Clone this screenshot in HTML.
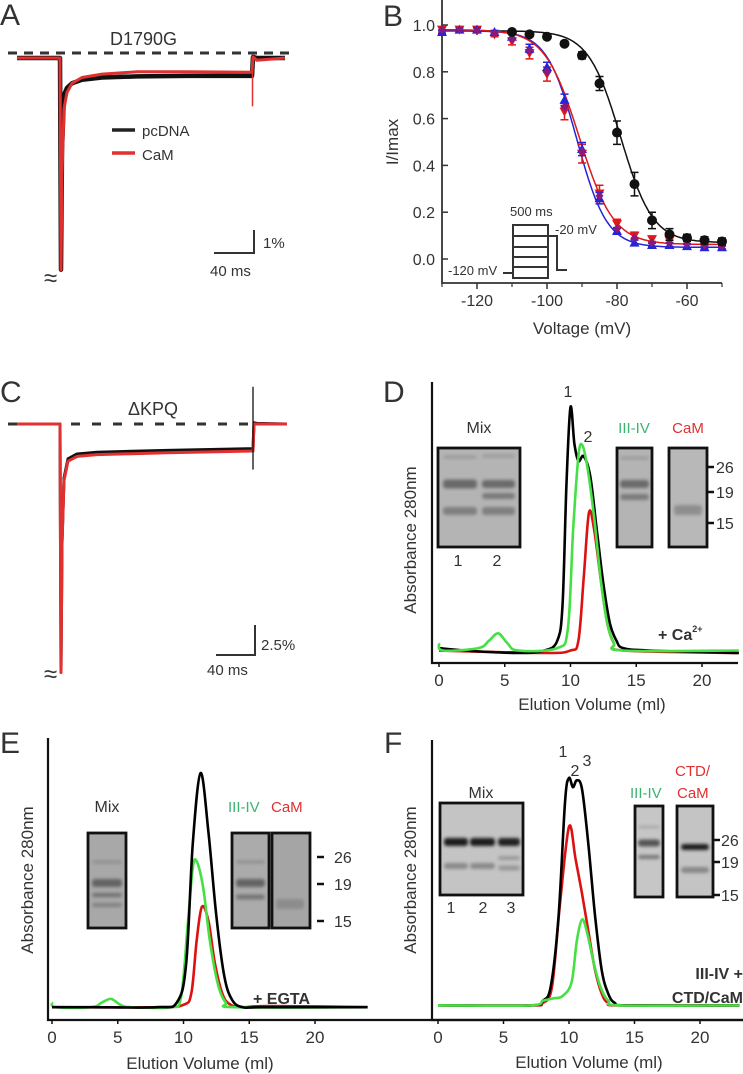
<!DOCTYPE html>
<html><head><meta charset="utf-8"><style>
html,body{margin:0;padding:0;background:#fff;}
svg{display:block;font-family:"Liberation Sans",Arial,sans-serif;}
text{fill:#333;}
</style></head><body>
<svg id="fig" width="743" height="1074" viewBox="0 0 743 1074" xmlns="http://www.w3.org/2000/svg">
<defs><filter id="blur" x="-20%" y="-100%" width="140%" height="300%"><feGaussianBlur stdDeviation="1.6"/></filter></defs>
<!-- Panel labels -->
<text x="0" y="25" font-size="30">A</text>
<text x="383" y="26" font-size="30">B</text>
<text x="0" y="402" font-size="30">C</text>
<text x="383" y="402" font-size="30">D</text>
<text x="0" y="753" font-size="30">E</text>
<text x="384" y="753" font-size="30">F</text>

<g id="pA">
<text x="110" y="45" font-size="18">D1790G</text>
<line x1="112" y1="130" x2="135" y2="130" stroke="#222" stroke-width="3.5"/>
<text x="142" y="136" font-size="15">pcDNA</text>
<line x1="112" y1="153" x2="135" y2="153" stroke="#e03030" stroke-width="3.5"/>
<text x="142" y="160" font-size="15">CaM</text>
<path d="M214 253 H254 V230" fill="none" stroke="#333" stroke-width="2"/>
<text x="263" y="248" font-size="15">1%</text>
<text x="210" y="276" font-size="15">40 ms</text>
<text x="44" y="286" font-size="24">≈</text>
</g>
<g id="pC">
<text x="128" y="415" font-size="18">ΔKPQ</text>
<path d="M216 655 H255 V625" fill="none" stroke="#333" stroke-width="2"/>
<text x="261" y="650" font-size="15">2.5%</text>
<text x="207" y="675" font-size="15">40 ms</text>
<text x="44" y="682" font-size="24">≈</text>
</g>

<g id="pB">
<text transform="translate(398,142) rotate(-90)" text-anchor="middle" font-size="17">I/Imax</text>
<text x="582" y="334" text-anchor="middle" font-size="17">Voltage (mV)</text>
<g stroke="#333" stroke-width="2" fill="none">
<rect x="513" y="225" width="35" height="53"/>
<path d="M513 236H548M513 247H548M513 257H548M513 267H548"/>
<path d="M503 273H513M548 236H557V270H567"/>
</g>
<text x="510" y="216" font-size="13">500 ms</text>
<text x="555" y="234" font-size="13">-20 mV</text>
<text x="448" y="275" font-size="13">-120 mV</text>
</g>

<!-- D -->
<g>
<text transform="translate(416,540) rotate(-90)" text-anchor="middle" font-size="17">Absorbance 280nm</text>
<text x="592" y="710" text-anchor="middle" font-size="17">Elution Volume (ml)</text>
<text x="479" y="433" text-anchor="middle" font-size="16">Mix</text>
<text x="458" y="566" text-anchor="middle" font-size="16">1</text>
<text x="497" y="566" text-anchor="middle" font-size="16">2</text>
<text x="634" y="433" text-anchor="middle" font-size="15" style="fill:#3cb371">III-IV</text>
<text x="688" y="433" text-anchor="middle" font-size="15" style="fill:#e03030">CaM</text>
<text x="568" y="397" text-anchor="middle" font-size="16">1</text>
<text x="588" y="442" text-anchor="middle" font-size="16">2</text>
<text x="658" y="640" font-size="16" font-weight="bold">+ Ca<tspan font-size="9" dy="-8">2+</tspan></text>
</g>
<!-- E -->
<g>
<text transform="translate(33,880) rotate(-90)" text-anchor="middle" font-size="17">Absorbance 280nm</text>
<text x="200" y="1069" text-anchor="middle" font-size="17">Elution Volume (ml)</text>
<text x="107" y="812" text-anchor="middle" font-size="16">Mix</text>
<text x="228" y="812" font-size="15" style="fill:#3cb371">III-IV</text>
<text x="271" y="812" font-size="15" style="fill:#e03030">CaM</text>
<text x="253" y="1004" font-size="16" font-weight="bold">+ EGTA</text>
</g>
<!-- F -->
<g>
<text transform="translate(416,880) rotate(-90)" text-anchor="middle" font-size="17">Absorbance 280nm</text>
<text x="589" y="1068" text-anchor="middle" font-size="17">Elution Volume (ml)</text>
<text x="481" y="798" text-anchor="middle" font-size="16">Mix</text>
<text x="451" y="913" text-anchor="middle" font-size="16">1</text>
<text x="483" y="913" text-anchor="middle" font-size="16">2</text>
<text x="511" y="913" text-anchor="middle" font-size="16">3</text>
<text x="630" y="798" font-size="15" style="fill:#3cb371">III-IV</text>
<text x="675" y="776" font-size="15" style="fill:#e03030">CTD/</text>
<text x="677" y="798" font-size="15" style="fill:#e03030">CaM</text>
<text x="563" y="757" text-anchor="middle" font-size="16">1</text>
<text x="575" y="776" text-anchor="middle" font-size="16">2</text>
<text x="587" y="766" text-anchor="middle" font-size="16">3</text>
<text x="743" y="979" text-anchor="end" font-size="16" font-weight="bold">III-IV +</text>
<text x="743" y="1003" text-anchor="end" font-size="16" font-weight="bold">CTD/CaM</text>
</g>
</svg>
<script>
// ---------- Data ----------
// Panel A traces (time ms, current %)
const aTime = [0, 43, 44, 45, 47, 50, 55, 65, 85, 120, 170, 235, 236, 240, 268];
const aBlack = [0, 0, -9.2, -4.0, -1.6, -1.3, -1.1, -0.95, -0.85, -0.8, -0.78, -0.78, 0.05, 0.0, 0.0];
const aRed   = [0, 0, -9.2, -5.0, -2.2, -1.5, -1.1, -0.85, -0.7, -0.6, -0.6, -0.62, 0.05, -0.1, 0.0];
// Panel C traces
const cTime = [0, 43, 44, 45, 47, 51, 60, 80, 150, 236, 237, 240, 270];
const cBlack = [0, 0, -20.7, -10, -4.5, -2.9, -2.5, -2.35, -2.2, -2.05, 0.1, 0.05, 0.0];
const cRed   = [0, 0, -20.7, -10, -4.7, -3.1, -2.7, -2.55, -2.4, -2.25, 0.0, 0.0, 0.0];
// Panel B (voltage mV, I/Imax)
const bVolt = [-130,-125,-120,-115,-110,-105,-100,-95,-90,-85,-80,-75,-70,-65,-60,-55,-50];
const bPcdna = [0.98,0.98,0.97,0.97,0.97,0.96,0.95,0.92,0.87,0.75,0.54,0.32,0.165,0.105,0.09,0.08,0.075];
const bPcdnaErr = [0.01,0.01,0.01,0.01,0.01,0.01,0.01,0.01,0.015,0.03,0.05,0.05,0.035,0.025,0.015,0.015,0.015];
const bBlue = [0.97,0.98,0.98,0.97,0.95,0.90,0.82,0.68,0.47,0.26,0.12,0.07,0.06,0.06,0.055,0.05,0.05];
const bRed  = [0.98,0.98,0.98,0.96,0.93,0.88,0.79,0.63,0.45,0.28,0.15,0.10,0.085,0.08,0.075,0.07,0.065];
const bMid  = [0.98,0.98,0.975,0.965,0.94,0.89,0.80,0.65,0.46,0.27,0.13,0.09,0.07,0.07,0.065,0.06,0.055];
const bSeriesErr = [0.01,0.01,0.01,0.01,0.015,0.025,0.03,0.035,0.04,0.035,0.02,0.015,0.01,0.01,0.01,0.01,0.01];
const bXTicks = [-120,-100,-80,-60];
const bYTicks = [0,0.2,0.4,0.6,0.8,1.0];
const fitV50 = [-79, -91.5, -90.8];
const fitK = [4.6, 4.3, 4.9];
const fitTop = [0.975, 0.975, 0.98];
const fitBottom = [0.07, 0.05, 0.062];
// Chromatograms (volume ml, absorbance normalised)
const elTicks = [0,5,10,15,20];
const dVolBlack = [0,2,6,8,9,9.4,9.7,10,10.3,10.6,11,11.5,12,12.5,13,13.5,14,16,22.8];
const dBlack = [0.02,0.01,0.0,0.01,0.05,0.2,0.7,1.0,0.85,0.78,0.80,0.72,0.5,0.28,0.12,0.05,0.02,0.01,0.0];
const dVolGreen = [0,0.3,3,3.8,4.5,5.2,6,9,9.8,10.2,10.6,10.9,11.3,11.8,12.3,12.8,13.3,14,22.8];
const dGreen = [0.04,0.01,0.02,0.05,0.08,0.04,0.01,0.02,0.1,0.5,0.8,0.845,0.75,0.55,0.3,0.12,0.04,0.01,0.01];
const dVolRed = [0,8,10,10.6,11,11.4,11.8,12.3,12.8,13.3,14,22.8];
const dRed = [0.01,0.0,0.01,0.05,0.3,0.57,0.5,0.3,0.12,0.04,0.01,0.0];
const eVolBlack = [0,3,8,9.5,10.2,10.7,11.3,11.9,12.5,13.1,13.7,14.5,16,24];
const eBlack = [0.02,0.02,0.02,0.04,0.2,0.7,1.0,0.75,0.4,0.15,0.05,0.02,0.02,0.02];
const eVolGreen = [0,0.3,3,3.8,4.5,5.2,6,9,9.8,10.3,10.7,11.0,11.5,12.0,12.6,13.2,14,24];
const eGreen = [0.04,0.02,0.02,0.04,0.055,0.03,0.02,0.02,0.06,0.35,0.6,0.63,0.52,0.3,0.12,0.04,0.02,0.02];
const eVolRed = [0,8,10,10.6,11.0,11.4,11.9,12.4,13,13.6,14.5,16.5,24];
const eRed = [0.02,0.02,0.03,0.08,0.3,0.44,0.38,0.2,0.07,0.03,0.02,0.025,0.02];
const fVolBlack = [0,7,8,8.6,9.2,9.7,10,10.3,10.6,11,11.5,12,12.5,13,13.5,14.5,23];
const fBlack = [0.02,0.02,0.04,0.1,0.4,0.9,1.0,0.96,0.99,0.95,0.7,0.4,0.17,0.07,0.03,0.02,0.02];
const fVolGreen = [0,7,8,8.8,9.5,10.2,10.6,11.0,11.4,11.9,12.4,13,14,23];
const fGreen = [0.02,0.02,0.04,0.05,0.06,0.12,0.3,0.39,0.33,0.2,0.1,0.04,0.02,0.02];
const fVolRed = [0,7,8,8.7,9.3,10,10.5,11,11.5,12,12.5,13,14,23];
const fRed = [0.02,0.02,0.03,0.1,0.45,0.79,0.65,0.5,0.33,0.17,0.07,0.03,0.02,0.02];

// ---------- helpers ----------
const NS = "http://www.w3.org/2000/svg";
const svg = document.getElementById('fig');
function mk(tag, attrs, parent) {
  const el = document.createElementNS(NS, tag);
  for (const k in attrs) el.setAttribute(k, attrs[k]);
  (parent || svg).appendChild(el);
  return el;
}
function lin(d0, d1, r0, r1) { return v => r0 + (v - d0) * (r1 - r0) / (d1 - d0); }
function pathFrom(xs, ys, sx, sy) {
  return xs.map((x, i) => (i ? 'L' : 'M') + sx(x).toFixed(1) + ' ' + sy(ys[i]).toFixed(1)).join(' ');
}
function smoothPath(xs, ys, sx, sy) {
  const p = xs.map((x, i) => [sx(x), sy(ys[i])]);
  let d = 'M' + p[0][0] + ' ' + p[0][1];
  for (let i = 0; i < p.length - 1; i++) {
    const p0 = p[i - 1] || p[i], p1 = p[i], p2 = p[i + 1], p3 = p[i + 2] || p2;
    const c1x = p1[0] + (p2[0] - p0[0]) / 6, c1y = p1[1] + (p2[1] - p0[1]) / 6;
    const c2x = p2[0] - (p3[0] - p1[0]) / 6, c2y = p2[1] - (p3[1] - p1[1]) / 6;
    d += ' C' + c1x.toFixed(1) + ' ' + c1y.toFixed(1) + ' ' + c2x.toFixed(1) + ' ' + c2y.toFixed(1) + ' ' + p2[0].toFixed(1) + ' ' + p2[1].toFixed(1);
  }
  return d;
}

// ---------- Panel A ----------
(function(){
  const sx = lin(0, 40, 17, 57), sy = lin(0, 1, 58, 35);
  const dash = mk('line', {x1: 8, y1: sy(0.22), x2: 292, y2: sy(0.22), stroke: '#333', 'stroke-width': 3, 'stroke-dasharray': '9 7'});
  
  
  const b = mk('path', {d: pathFrom(aTime, aBlack, sx, sy), fill: 'none', stroke: '#111', 'stroke-width': 4.5, 'stroke-linejoin': 'round'});
  
  
  const r = mk('path', {d: pathFrom(aTime, aRed, sx, sy), fill: 'none', stroke: '#e03030', 'stroke-width': 3, 'stroke-linejoin': 'round'});
  
  
  const art = mk('line', {x1: sx(235.5), y1: sy(0), x2: sx(235.5), y2: sy(-2.1), stroke: '#e03030', 'stroke-width': 1.5});
  
  
})();

// ---------- Panel C ----------
(function(){
  const sx = lin(0, 39, 17, 56), sy = lin(0, 2.5, 424, 394);
  const dash = mk('line', {x1: 8, y1: sy(0), x2: 252, y2: sy(0), stroke: '#333', 'stroke-width': 3, 'stroke-dasharray': '9 12'});
  
  
  const b = mk('path', {d: pathFrom(cTime, cBlack, sx, sy), fill: 'none', stroke: '#111', 'stroke-width': 3, 'stroke-linejoin': 'round'});
  
  
  const r = mk('path', {d: pathFrom(cTime, cRed, sx, sy), fill: 'none', stroke: '#e03030', 'stroke-width': 3, 'stroke-linejoin': 'round'});
  
  
  const art = mk('line', {x1: sx(236), y1: sy(3.1), x2: sx(236), y2: sy(-3.8), stroke: '#111', 'stroke-width': 1.3});
  
  
})();

// ---------- Panel B ----------
(function(){
  const sx = lin(-130, -50, 442, 722), sy = lin(0, 1, 259, 25);
  const ax = mk('path', {d: 'M442 0 V283 H722', fill: 'none', stroke: '#333', 'stroke-width': 1.8});
  
  
  bXTicks.forEach(v => {
    const t = mk('line', {x1: sx(v), y1: 283, x2: sx(v), y2: 289, stroke: '#333', 'stroke-width': 1.5});
    
    
    const l = mk('text', {x: sx(v), y: 306, 'text-anchor': 'middle', 'font-size': 16});
    l.textContent = v;
    
    
  });
  for (let v = -130; v <= -50; v += 10) {
    if (bXTicks.indexOf(v) >= 0) continue;
    const t = mk('line', {x1: sx(v), y1: 283, x2: sx(v), y2: 287, stroke: '#333', 'stroke-width': 1.2});
    
    
  }
  bYTicks.forEach(v => {
    const t = mk('line', {x1: 442, y1: sy(v), x2: 448, y2: sy(v), stroke: '#333', 'stroke-width': 1.5});
    
    
    const l = mk('text', {x: 435, y: sy(v) + 6, 'text-anchor': 'end', 'font-size': 16});
    l.textContent = v.toFixed(1);
    
    
  });
  const colors = ['#111', '#2424d8', '#e01818'];
  const fitNames = ['fit-pcdna', 'fit-blue', 'fit-red'];
  for (let s = 0; s < 3; s++) {
    let d = '';
    for (let v = -130; v <= -50; v += 0.5) {
      const y = fitBottom[s] + (fitTop[s] - fitBottom[s]) / (1 + Math.exp((v - fitV50[s]) / fitK[s]));
      d += (d ? 'L' : 'M') + sx(v).toFixed(1) + ' ' + sy(y).toFixed(1);
    }
    const p = mk('path', {d: d, fill: 'none', stroke: colors[s], 'stroke-width': 1.5});
    
    
  }
  function errbar(x, y, e, col) {
    const g = mk('path', {d: `M${x} ${sy(y - e)} V${sy(y + e)} M${x - 4} ${sy(y - e)} H${x + 4} M${x - 4} ${sy(y + e)} H${x + 4}`, stroke: col, 'stroke-width': 1.5, fill: 'none'});
    
    
  }
  bVolt.forEach((v, i) => {
    const x = sx(v);
    errbar(x, bRed[i], bSeriesErr[i], '#e01818');
    const r = mk('path', {d: `M${x - 5} ${sy(bRed[i]) - 4} H${x + 5} L${x} ${sy(bRed[i]) + 5} Z`, fill: '#e01818'});
    
    
    errbar(x, bBlue[i], bSeriesErr[i] * 0.7, '#2424d8');
    const bl = mk('path', {d: `M${x - 5} ${sy(bBlue[i]) + 4} H${x + 5} L${x} ${sy(bBlue[i]) - 5} Z`, fill: '#2424d8'});
    
    
    const m = mk('path', {d: `M${x} ${sy(bMid[i]) - 4.5} L${x + 4} ${sy(bMid[i])} L${x} ${sy(bMid[i]) + 4.5} L${x - 4} ${sy(bMid[i])} Z`, fill: '#8a1a7a'});
    
    
  });
  bVolt.forEach((v, i) => {
    if (v < -110) return;
    errbar(sx(v), bPcdna[i], bPcdnaErr[i], '#111');
    const c = mk('circle', {cx: sx(v), cy: sy(bPcdna[i]), r: 5, fill: '#111'});
    
    
  });
})();

// ---------- Chromatograms ----------
function chrom(cfg) {
  const sx = lin(0, 1, cfg.x0, cfg.x0 + cfg.pxPerMl), sy = lin(0, 1, cfg.base, cfg.top);
  const ax = mk('path', {d: `M${cfg.axX} ${cfg.axTop} V${cfg.axY} H${cfg.axR}`, fill: 'none', stroke: '#111', 'stroke-width': 2.2});
  
  
  elTicks.forEach(v => {
    const t = mk('line', {x1: sx(v), y1: cfg.axY, x2: sx(v), y2: cfg.axY + 4, stroke: '#111', 'stroke-width': 1.5});
    
    
    const l = mk('text', {x: sx(v), y: cfg.axY + 23, 'text-anchor': 'middle', 'font-size': 17});
    l.textContent = v;
    
    
  });
  const series = [[cfg.vr, cfg.r, '#dd1111', 'trace-cam-'], [cfg.vb, cfg.b, '#000', 'trace-mix-'], [cfg.vg, cfg.g, '#44e044', 'trace-iii-iv-']];
  const order = cfg.greenFirst ? [0, 2, 1] : [0, 1, 2];
  order.forEach(k => {
    const s = series[k];
    const p = mk('path', {d: smoothPath(s[0], s[1], sx, sy), fill: 'none', stroke: s[2], 'stroke-width': 2.6, 'stroke-linejoin': 'round'});
    
    
  });
}
chrom({id: 'd', x0: 439, pxPerMl: 13.15, base: 653, top: 407, axX: 432, axTop: 382, axY: 663, axR: 738,
  vb: dVolBlack, b: dBlack, vg: dVolGreen, g: dGreen, vr: dVolRed, r: dRed, greenFirst: false});
chrom({id: 'e', x0: 52, pxPerMl: 13.15, base: 1012, top: 773, axX: 48, axTop: 738, axY: 1020, axR: 743,
  vb: eVolBlack, b: eBlack, vg: eVolGreen, g: eGreen, vr: eVolRed, r: eRed, greenFirst: true});
chrom({id: 'f', x0: 438, pxPerMl: 13.1, base: 1010, top: 778, axX: 432, axTop: 740, axY: 1020, axR: 743,
  vb: fVolBlack, b: fBlack, vg: fVolGreen, g: fGreen, vr: fVolRed, r: fRed, greenFirst: false});

// ---------- Gels ----------
function gel(name, x, y, w, h, bg, bands) {
  const g = mk('g', {});
  
  
  mk('rect', {x: x, y: y, width: w, height: h, fill: bg}, g);
  bands.forEach(b => {
    const e = mk('rect', {x: b[0], y: b[1] - b[3] / 2, width: b[2], height: b[3], rx: 3, fill: b[4], filter: 'url(#blur)'}, g);
    
    
  });
  mk('rect', {x: x, y: y, width: w, height: h, fill: 'none', stroke: '#111', 'stroke-width': 2.8}, g);
}
gel('gel-mix-d', 438, 448, 82, 99, '#b4b4b4', [[443,457,34,3,'#999'],[443,484,34,9,'#6a6a6a'],[443,511,34,8,'#808080'],[482,456,33,3,'#999'],[482,484,33,8,'#6a6a6a'],[482,496,33,6,'#7a7a7a'],[482,511,33,8,'#808080']]);
gel('gel-iii-iv-d', 617, 448, 35, 99, '#b4b4b4', [[620,458,29,3,'#999'],[620,484,29,8,'#6a6a6a'],[620,497,29,6,'#7a7a7a']]);
gel('gel-cam-d', 669, 448, 38, 99, '#b8b8b8', [[674,510,28,10,'#8e8e8e']]);
gel('gel-mix-e', 88, 833, 38, 95, '#a8a8a8', [[92,862,30,3,'#8e8e8e'],[92,883,30,8,'#636363'],[92,895,30,4,'#707070'],[92,905,30,4,'#808080']]);
gel('gel-iii-iv-e', 232, 833, 37, 95, '#ababab', [[236,862,29,3,'#8e8e8e'],[236,883,29,8,'#636363'],[236,897,29,5,'#757575']]);
gel('gel-cam-e', 272, 833, 38, 95, '#a5a5a5', [[276,904,28,10,'#8c8c8c']]);
gel('gel-mix-f', 440, 803, 83, 92, '#c4c4c4', [[444,842,24,8,'#1a1a1a'],[470,842,25,8,'#1a1a1a'],[498,842,22,8,'#222'],[444,866,24,6,'#8a8a8a'],[470,866,25,6,'#8a8a8a'],[498,858,22,4,'#999'],[498,868,22,5,'#999']]);
gel('gel-iii-iv-f', 635, 806, 28, 91, '#c6c6c6', [[638,827,22,3,'#aaa'],[638,843,22,7,'#555'],[638,857,22,4,'#777']]);
gel('gel-cam-f', 677, 806, 36, 91, '#c4c4c4', [[681,847,28,6,'#1a1a1a'],[681,870,28,6,'#888']]);

// ---------- MW markers ----------
function markers(id, tx1, tx2, lx, ys, labels) {
  ys.forEach((y, i) => {
    const t = mk('line', {x1: tx1, y1: y, x2: tx2, y2: y, stroke: '#111', 'stroke-width': 2.5});
    
    
    const l = mk('text', {x: lx, y: y + 6, 'font-size': 16});
    l.textContent = labels[i];
    
    
  });
}
const mwLabels = ['26', '19', '15'];
markers('d', 707, 714, 716, [467, 492, 523], mwLabels);
markers('e', 317, 324, 334, [857, 884, 921], mwLabels);
markers('f', 713, 720, 721, [840, 862, 895], mwLabels);
</script>
</body></html>
